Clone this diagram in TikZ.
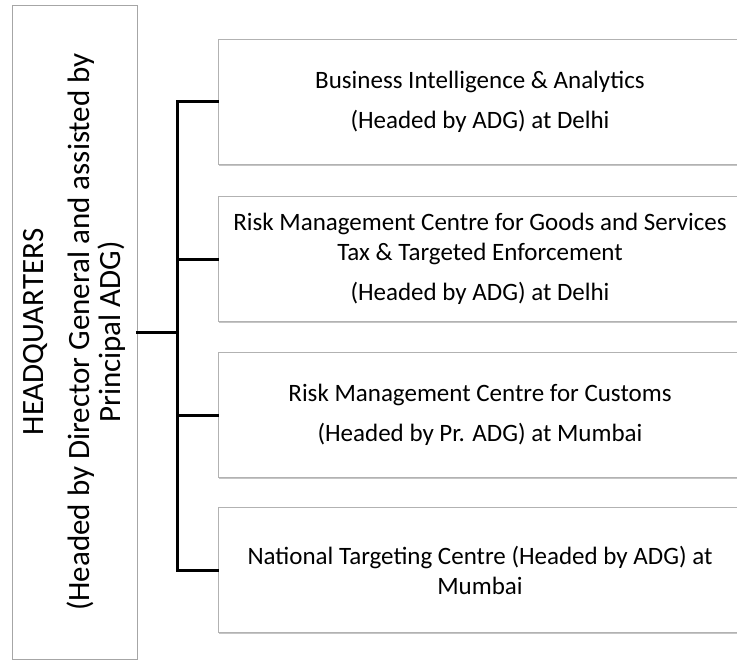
\documentclass[tikz,border=0pt]{standalone}
\usepackage{fontspec}
\setmainfont{Carlito}
\usetikzlibrary{shadows}
\begin{document}
\begin{tikzpicture}
  [
    x=1pt, y=-1pt,
    hq/.style =
      {draw=gray!70, rectangle, align=center, rotate=90,
       minimum width=654pt, minimum height=125pt,
       font=\fontsize{31}{31}\selectfont},
    unit/.style =
      {draw=gray!60, fill=white, rectangle, align=center,
       minimum width=524pt, minimum height=125pt,
       font=\fontsize{25}{30}\selectfont,
       drop shadow={shadow xshift=0.8pt, shadow yshift=-1.5pt, fill=black!45}},
    link/.style =
      {line width=3pt, line cap=rect}
  ]
  \useasboundingbox (0,0) rectangle (737,661);
  \clip (0,0) rectangle (737,661);
  \node [hq]   at ( 74.5,332) (h) {HEADQUARTERS\\[15pt](Headed by Director General and assisted by\\Principal ADG)};
  \node [unit] at (480,102)   (b) {Business Intelligence \& Analytics\\[10pt](Headed by ADG) at Delhi};
  \node [unit] at (480,259)   (r) {Risk Management Centre for Goods and Services\\Tax \& Targeted Enforcement\\[10pt](Headed by ADG) at Delhi};
  \node [unit] at (480,415)   (c) {Risk Management Centre for Customs\\[10pt](Headed by Pr. ADG) at Mumbai};
  \node [unit] at (480,570)   (n) {National Targeting Centre (Headed by ADG) at\\Mumbai};
  \coordinate (j) at (177,0);

  \draw[link] (h.south)        -- (h.south-|j);
  \draw[link] (b.west-|j)      -- (n.west-|j);
  \foreach \u in {b,r,c,n}
    \draw[link] (\u.west-|j)   -- (\u.west);
\end{tikzpicture}
\end{document}
